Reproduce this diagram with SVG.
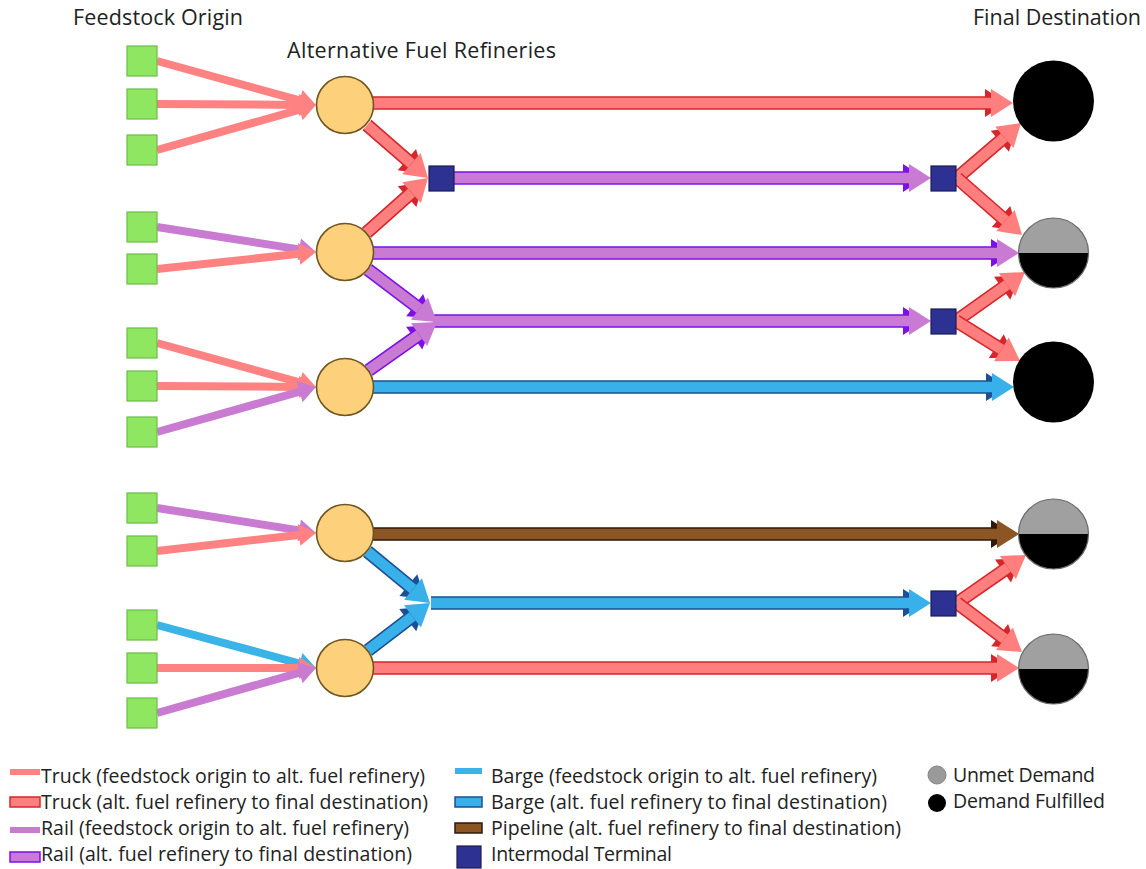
<svg xmlns="http://www.w3.org/2000/svg" width="1146" height="869" viewBox="0 0 1146 869">
<style>
text{font-family:"Open Sans","Noto Sans","Liberation Sans",sans-serif;fill:#222}
.hd{font-size:21.5px}
.lg{font-size:19.5px}
.src rect{fill:#8fe661;stroke:#6cbd4a;stroke-width:1.2}
.ref circle{fill:#fdd07c;stroke:#6f5520;stroke-width:1.6}
.term rect{fill:#2d3192;stroke:#1a1c55;stroke-width:1.2}
.fd path{stroke:none}
.fd.truck path{fill:#ff8282}
.fd.rail path{fill:#c87bd0}
.fd.barge path{fill:#3ab3e6}
.ar .e{fill:none;stroke-width:1.6}
.ar.truck .s,.ar.truck .h1{fill:#ff7f7f}.ar.truck .e{stroke:#d7262b}.ar.truck .h0{fill:#d7262b}
.ar.rail .s,.ar.rail .h1{fill:#c97bd3}.ar.rail .e{stroke:#7d10e8}.ar.rail .h0{fill:#7d10e8}
.ar.barge .s,.ar.barge .h1{fill:#38b0ea}.ar.barge .e{stroke:#1d4f94}.ar.barge .h0{fill:#1d4f94}
.ar.pipe .s,.ar.pipe .h1{fill:#8b5524}.ar.pipe .e{stroke:#2f1a08}.ar.pipe .h0{fill:#2f1a08}
.full circle{fill:#000}
.half .t{fill:#a0a0a0}.half .b{fill:#000}.half circle{fill:none;stroke:#6a6a6a;stroke-width:1.2}
</style>
<rect width="1146" height="869" fill="#fff"/>

<text class="hd" x="73" y="25" textLength="170" lengthAdjust="spacing">Feedstock Origin</text>
<text class="hd" x="287" y="58" textLength="269" lengthAdjust="spacing">Alternative Fuel Refineries</text>
<text class="hd" x="973" y="25" textLength="168" lengthAdjust="spacing">Final Destination</text>

<g id="connectors">
  <!-- feedstock to refinery -->
  <g class="fd truck" transform="translate(157,61) rotate(15.47)"><path d="M0,-4H148V-11L165,0L148,11V4H0Z"/></g>
  <g class="fd truck" transform="translate(157,104) rotate(0.36)"><path d="M0,-4H142V-11L159,0L142,11V4H0Z"/></g>
  <g class="fd truck" transform="translate(157,150) rotate(-15.8)"><path d="M0,-4H148.2V-11L165.2,0L148.2,11V4H0Z"/></g>
  <g class="fd rail" transform="translate(157,227) rotate(8.94)"><path d="M0,-4H144V-11L161,0L144,11V4H0Z"/></g>
  <g class="fd truck" transform="translate(157,269) rotate(-6.1)"><path d="M0,-4H142.9V-11L159.9,0L142.9,11V4H0Z"/></g>
  <g class="fd truck" transform="translate(157,343) rotate(15.47)"><path d="M0,-4H148V-11L165,0L148,11V4H0Z"/></g>
  <g class="fd truck" transform="translate(157,386) rotate(0.36)"><path d="M0,-4H142V-11L159,0L142,11V4H0Z"/></g>
  <g class="fd rail" transform="translate(157,432) rotate(-15.8)"><path d="M0,-4H148.2V-11L165.2,0L148.2,11V4H0Z"/></g>
  <g class="fd rail" transform="translate(157,508) rotate(8.94)"><path d="M0,-4H144V-11L161,0L144,11V4H0Z"/></g>
  <g class="fd truck" transform="translate(157,551) rotate(-6.46)"><path d="M0,-4H143V-11L160,0L143,11V4H0Z"/></g>
  <g class="fd barge" transform="translate(157,625) rotate(15.13)"><path d="M0,-4H147.7V-11L164.7,0L147.7,11V4H0Z"/></g>
  <g class="fd truck" transform="translate(157,668)"><path d="M0,-4H142V-11L159,0L142,11V4H0Z"/></g>
  <g class="fd rail" transform="translate(157,713) rotate(-15.8)"><path d="M0,-4H148.2V-11L165.2,0L148.2,11V4H0Z"/></g>

  <!-- refinery / terminal to destination -->
  <g class="ar truck" transform="translate(372,103)"><polygon class="h0" points="613,-14 635,0 613,14"/><rect class="s" x="0" y="-6" width="619" height="12"/><path class="e" d="M0,-6H619M0,6H619"/><polygon class="h1" points="619,-14 641,0 619,14"/></g>
  <g class="ar truck" transform="translate(367,125) rotate(40.98)"><polygon class="h0" points="52.8,-14 74.8,0 52.8,14"/><rect class="s" x="0" y="-6" width="58.8" height="12"/><path class="e" d="M0,-6H58.8M0,6H58.8"/><polygon class="h1" points="58.8,-14 80.8,0 58.8,14"/></g>
  <g class="ar truck" transform="translate(366.6,232.7) rotate(-41.7)"><polygon class="h0" points="54.2,-14 76.2,0 54.2,14"/><rect class="s" x="0" y="-6" width="60.2" height="12"/><path class="e" d="M0,-6H60.2M0,6H60.2"/><polygon class="h1" points="60.2,-14 82.2,0 60.2,14"/></g>
  <g class="ar rail" transform="translate(454,178)"><polygon class="h0" points="449,-14 471,0 449,14"/><rect class="s" x="0" y="-6" width="455" height="12"/><path class="e" d="M0,-6H455M0,6H455"/><polygon class="h1" points="455,-14 477,0 455,14"/></g>
  <g class="ar truck" transform="translate(957,178) rotate(-40.67)"><polygon class="h0" points="56.4,-14 78.4,0 56.4,14"/><rect class="s" x="0" y="-6" width="62.4" height="12"/><path class="e" d="M0,-6H62.4M0,6H62.4"/><polygon class="h1" points="62.4,-14 84.4,0 62.4,14"/></g>
  <g class="ar truck" transform="translate(957,178) rotate(41.25)"><polygon class="h0" points="58.5,-14 80.5,0 58.5,14"/><rect class="s" x="0" y="-6" width="64.5" height="12"/><path class="e" d="M0,-6H64.5M0,6H64.5"/><polygon class="h1" points="64.5,-14 86.5,0 64.5,14"/></g>
  <g class="ar rail" transform="translate(372,253)"><polygon class="h0" points="619,-14 641,0 619,14"/><rect class="s" x="0" y="-6" width="625" height="12"/><path class="e" d="M0,-6H625M0,6H625"/><polygon class="h1" points="625,-14 647,0 625,14"/></g>
  <g class="ar rail" transform="translate(433,321)"><polygon class="h0" points="470,-14 492,0 470,14"/><rect class="s" x="0" y="-6" width="476" height="12"/><path class="e" d="M0,-6H476M0,6H476"/><polygon class="h1" points="476,-14 498,0 476,14"/></g>
  <g class="ar rail" transform="translate(368,269.6) rotate(37.2)"><polygon class="h0" points="58.6,-14 80.6,0 58.6,14"/><rect class="s" x="0" y="-6" width="64.6" height="12"/><path class="e" d="M0,-6H64.6M0,6H64.6"/><polygon class="h1" points="64.6,-14 86.6,0 64.6,14"/></g>
  <g class="ar rail" transform="translate(368.7,370.3) rotate(-35.27)"><polygon class="h0" points="55.7,-14 77.7,0 55.7,14"/><rect class="s" x="0" y="-6" width="61.7" height="12"/><path class="e" d="M0,-6H61.7M0,6H61.7"/><polygon class="h1" points="61.7,-14 83.7,0 61.7,14"/></g>
  <g class="ar truck" transform="translate(956,321) rotate(-35.38)"><polygon class="h0" points="56.6,-14 78.6,0 56.6,14"/><rect class="s" x="0" y="-6" width="62.6" height="12"/><path class="e" d="M0,-6H62.6M0,6H62.6"/><polygon class="h1" points="62.6,-14 84.6,0 62.6,14"/></g>
  <g class="ar truck" transform="translate(956,321) rotate(32)"><polygon class="h0" points="47.5,-14 69.5,0 47.5,14"/><rect class="s" x="0" y="-6" width="53.5" height="12"/><path class="e" d="M0,-6H53.5M0,6H53.5"/><polygon class="h1" points="53.5,-14 75.5,0 53.5,14"/></g>
  <g class="ar barge" transform="translate(372,387)"><polygon class="h0" points="614,-14 636,0 614,14"/><rect class="s" x="0" y="-6" width="620" height="12"/><path class="e" d="M0,-6H620M0,6H620"/><polygon class="h1" points="620,-14 642,0 620,14"/></g>
  <g class="ar pipe" transform="translate(372,534)"><polygon class="h0" points="619,-14 641,0 619,14"/><rect class="s" x="0" y="-6" width="625" height="12"/><path class="e" d="M0,-6H625M0,6H625"/><polygon class="h1" points="625,-14 647,0 625,14"/></g>
  <g class="ar barge" transform="translate(431,603)"><polygon class="h0" points="472,-14 494,0 472,14"/><rect class="s" x="0" y="-6" width="478" height="12"/><path class="e" d="M0,-6H478M0,6H478"/><polygon class="h1" points="478,-14 500,0 478,14"/></g>
  <g class="ar barge" transform="translate(367.4,551.4) rotate(39.5)"><polygon class="h0" points="53.1,-14 75.1,0 53.1,14"/><rect class="s" x="0" y="-6" width="59.1" height="12"/><path class="e" d="M0,-6H59.1M0,6H59.1"/><polygon class="h1" points="59.1,-14 81.1,0 59.1,14"/></g>
  <g class="ar barge" transform="translate(368,650.4) rotate(-37.4)"><polygon class="h0" points="50,-14 72,0 50,14"/><rect class="s" x="0" y="-6" width="56" height="12"/><path class="e" d="M0,-6H56M0,6H56"/><polygon class="h1" points="56,-14 78,0 56,14"/></g>
  <g class="ar truck" transform="translate(957,603) rotate(-34.82)"><polygon class="h0" points="56,-14 78,0 56,14"/><rect class="s" x="0" y="-6" width="62" height="12"/><path class="e" d="M0,-6H62M0,6H62"/><polygon class="h1" points="62,-14 84,0 62,14"/></g>
  <g class="ar truck" transform="translate(957,603) rotate(37)"><polygon class="h0" points="53.4,-14 75.4,0 53.4,14"/><rect class="s" x="0" y="-6" width="59.4" height="12"/><path class="e" d="M0,-6H59.4M0,6H59.4"/><polygon class="h1" points="59.4,-14 81.4,0 59.4,14"/></g>
  <g class="ar truck" transform="translate(372,668)"><polygon class="h0" points="619,-14 641,0 619,14"/><rect class="s" x="0" y="-6" width="625" height="12"/><path class="e" d="M0,-6H625M0,6H625"/><polygon class="h1" points="625,-14 647,0 625,14"/></g>
</g>

<!-- feedstock origins -->
<g id="src1" class="src"><rect x="127" y="46" width="30" height="30"/></g>
<g id="src2" class="src"><rect x="127" y="89" width="30" height="30"/></g>
<g id="src3" class="src"><rect x="127" y="135" width="30" height="30"/></g>
<g id="src4" class="src"><rect x="127" y="212" width="30" height="30"/></g>
<g id="src5" class="src"><rect x="127" y="254" width="30" height="30"/></g>
<g id="src6" class="src"><rect x="127" y="328" width="30" height="30"/></g>
<g id="src7" class="src"><rect x="127" y="371" width="30" height="30"/></g>
<g id="src8" class="src"><rect x="127" y="417" width="30" height="30"/></g>
<g id="src9" class="src"><rect x="127" y="493" width="30" height="30"/></g>
<g id="src10" class="src"><rect x="127" y="536" width="30" height="30"/></g>
<g id="src11" class="src"><rect x="127" y="610" width="30" height="30"/></g>
<g id="src12" class="src"><rect x="127" y="653" width="30" height="30"/></g>
<g id="src13" class="src"><rect x="127" y="698" width="30" height="30"/></g>

<!-- refineries -->
<g id="ref1" class="ref"><circle cx="345" cy="105" r="28.5"/></g>
<g id="ref2" class="ref"><circle cx="345" cy="252" r="28.5"/></g>
<g id="ref3" class="ref"><circle cx="345" cy="387" r="28.5"/></g>
<g id="ref4" class="ref"><circle cx="345" cy="533" r="28.5"/></g>
<g id="ref5" class="ref"><circle cx="345" cy="668" r="28.5"/></g>

<!-- intermodal terminals -->
<g id="term1" class="term"><rect x="429" y="166" width="25" height="25"/></g>
<g id="term2" class="term"><rect x="931" y="166" width="25" height="25"/></g>
<g id="term3" class="term"><rect x="931" y="309" width="25" height="25"/></g>
<g id="term4" class="term"><rect x="931" y="591" width="25" height="25"/></g>

<!-- destinations -->
<g id="dest1" class="full"><circle cx="1053.5" cy="101" r="40.5"/></g>
<g id="dest2" class="half"><path class="t" d="M1018.5,253A35,35 0 0 1 1088.5,253Z"/><path class="b" d="M1018.5,253A35,35 0 0 0 1088.5,253Z"/><circle cx="1053.5" cy="253" r="35"/></g>
<g id="dest3" class="full"><circle cx="1053.5" cy="382" r="40.5"/></g>
<g id="dest4" class="half"><path class="t" d="M1018.5,534A35,35 0 0 1 1088.5,534Z"/><path class="b" d="M1018.5,534A35,35 0 0 0 1088.5,534Z"/><circle cx="1053.5" cy="534" r="35"/></g>
<g id="dest5" class="half"><path class="t" d="M1018.5,669A35,35 0 0 1 1088.5,669Z"/><path class="b" d="M1018.5,669A35,35 0 0 0 1088.5,669Z"/><circle cx="1053.5" cy="669" r="35"/></g>

<!-- legend -->
<g id="legend">
  <rect x="10" y="769" width="30" height="6" fill="#ff8282"/>
  <text class="lg" x="41" y="783" textLength="384" lengthAdjust="spacing">Truck (feedstock origin to alt. fuel refinery)</text>
  <rect x="10" y="797" width="30" height="10" fill="#ff7f7f" stroke="#d7262b" stroke-width="1.5"/>
  <text class="lg" x="41" y="809" textLength="387" lengthAdjust="spacing">Truck (alt. fuel refinery to final destination)</text>
  <rect x="10" y="827" width="30" height="6" fill="#c87bd0"/>
  <text class="lg" x="41" y="835" textLength="368" lengthAdjust="spacing">Rail (feedstock origin to alt. fuel refinery)</text>
  <rect x="10" y="852" width="30" height="10" fill="#c97bd3" stroke="#7d10e8" stroke-width="1.5"/>
  <text class="lg" x="41" y="861" textLength="371" lengthAdjust="spacing">Rail (alt. fuel refinery to final destination)</text>

  <rect x="455" y="768" width="27" height="6" fill="#3ab3e6"/>
  <text class="lg" x="491" y="783" textLength="386" lengthAdjust="spacing">Barge (feedstock origin to alt. fuel refinery)</text>
  <rect x="455" y="797" width="27" height="10" fill="#38b0ea" stroke="#1d4f94" stroke-width="1.5"/>
  <text class="lg" x="491" y="809" textLength="396" lengthAdjust="spacing">Barge (alt. fuel refinery to final destination)</text>
  <rect x="455" y="823" width="27" height="10" fill="#8b5524" stroke="#2f1a08" stroke-width="1.5"/>
  <text class="lg" x="491" y="835" textLength="410" lengthAdjust="spacing">Pipeline (alt. fuel refinery to final destination)</text>
  <rect x="457" y="846" width="24" height="22" fill="#2d3192" stroke="#1a1c55" stroke-width="1.2"/>
  <text class="lg" x="491" y="861" textLength="181" lengthAdjust="spacing">Intermodal Terminal</text>

  <circle cx="937" cy="775" r="9" fill="#9a9a9a" stroke="#858585" stroke-width="1"/>
  <text class="lg" x="953" y="782" textLength="142" lengthAdjust="spacing">Unmet Demand</text>
  <circle cx="937" cy="803" r="9" fill="#000"/>
  <text class="lg" x="953" y="808" textLength="152" lengthAdjust="spacing">Demand Fulfilled</text>
</g>
</svg>
